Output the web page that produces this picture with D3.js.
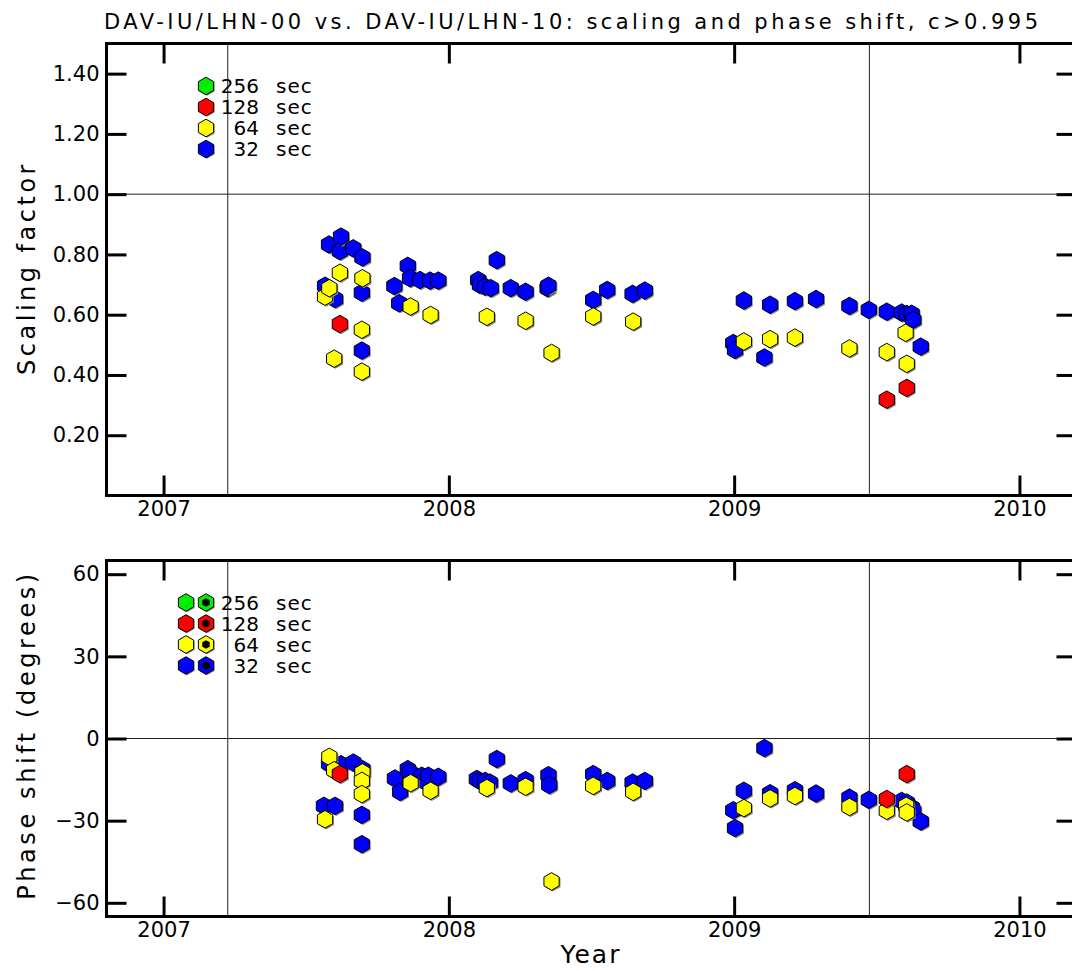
<!DOCTYPE html>
<html>
<head>
<meta charset="utf-8">
<script src="https://cdn.jsdelivr.net/npm/d3@7"></script>
<style>
  body { margin: 0; background: #fff; }
  svg { display: block; font-family: "DejaVu Sans", sans-serif; }
</style>
</head>
<body>
<div class="chart"></div>
<script>
// values: [decimal year, value]
const scale32 = [[2007.566,0.696],[2007.580,0.833],[2007.601,0.652],[2007.618,0.811],[2007.622,0.859],[2007.665,0.820],
  [2007.695,0.673],[2007.695,0.481],[2007.697,0.790],[2007.809,0.695],[2007.826,0.638],[2007.856,0.762],[2007.864,0.721],
  [2007.899,0.715],[2007.934,0.713],[2007.963,0.713],[2008.103,0.715],[2008.109,0.699],[2008.127,0.693],[2008.147,0.688],
  [2008.168,0.781],[2008.217,0.688],[2008.269,0.676],[2008.346,0.688],[2008.349,0.696],[2008.506,0.649],[2008.555,0.682],
  [2008.644,0.669],[2008.687,0.680],[2008.997,0.506],[2009.003,0.483],[2009.034,0.647],[2009.106,0.458],[2009.126,0.633],
  [2009.213,0.645],[2009.287,0.652],[2009.404,0.629],[2009.472,0.616],[2009.535,0.610],[2009.587,0.607],[2009.605,0.602],
  [2009.622,0.603],[2009.628,0.583],[2009.654,0.494]];
const scale64 = [[2007.566,0.660],[2007.581,0.688],[2007.598,0.454],[2007.618,0.739],[2007.695,0.550],[2007.695,0.411],
  [2007.697,0.721],[2007.866,0.627],[2007.936,0.599],[2008.133,0.593],[2008.269,0.580],[2008.360,0.473],[2008.506,0.594],
  [2008.646,0.577],[2009.034,0.511],[2009.126,0.519],[2009.213,0.524],[2009.404,0.488],[2009.535,0.476],[2009.601,0.540],
  [2009.605,0.437]];
const scale128 = [[2007.618,0.569],[2009.535,0.318],[2009.605,0.357]];

const phase32 = [[2007.562,-24.6],[2007.580,-9.2],[2007.601,-24.6],[2007.622,-9.4],[2007.665,-8.8],[2007.697,-11.2],
  [2007.695,-27.9],[2007.695,-38.6],[2007.811,-14.6],[2007.829,-19.5],[2007.856,-11.2],[2007.864,-12.4],[2007.905,-13.6],
  [2007.913,-15.5],[2007.928,-13.6],[2007.963,-14.0],[2008.098,-14.8],[2008.109,-15.5],[2008.127,-15.5],[2008.144,-16.1],
  [2008.168,-7.5],[2008.217,-16.4],[2008.269,-15.2],[2008.349,-13.4],[2008.352,-17.0],[2008.506,-13.0],[2008.555,-15.5],
  [2008.644,-16.1],[2008.687,-15.5],[2008.997,-26.2],[2009.003,-32.7],[2009.034,-19.1],[2009.106,-3.5],[2009.126,-20.0],
  [2009.213,-18.9],[2009.287,-20.1],[2009.404,-21.6],[2009.472,-22.4],[2009.587,-22.8],[2009.605,-23.4],[2009.622,-25.2],
  [2009.628,-26.4],[2009.654,-30.3]];
const phase64 = [[2007.566,-29.5],[2007.581,-6.7],[2007.598,-11.6],[2007.697,-12.4],[2007.695,-15.5],[2007.695,-20.3],
  [2007.866,-16.3],[2007.936,-19.1],[2008.133,-18.1],[2008.269,-17.6],[2008.360,-52.2],[2008.506,-17.3],[2008.646,-19.5],
  [2009.034,-25.4],[2009.126,-21.9],[2009.213,-21.0],[2009.404,-25.0],[2009.535,-26.4],[2009.603,-24.6],[2009.605,-27.0]];
const phase128 = [[2007.618,-13.0],[2009.535,-22.1],[2009.605,-13.0]];

const legendNums = ['256', '128', '64', '32'];
const legendColors = ['#00ee00', '#ff0000', '#ffff00', '#0000ff'];
const yearTicks = [2007, 2008, 2009, 2010];
const scaleTicks = [0.2, 0.4, 0.6, 0.8, 1.0, 1.2, 1.4];
const phaseTicks = [-60, -30, 0, 30, 60];
const markerLines = [2007.225, 2009.474];

const width = 1072, height = 971;
const svg = d3.select('.chart').append('svg')
  .attr('width', width)
  .attr('height', height);

svg.append('rect').attr('width', width).attr('height', height).attr('fill', '#fff');

const x = d3.scaleLinear().domain([2006.8, 2010.2]).range([106.5, 1076.5]);
const yTop = d3.scaleLinear().domain([0, 1.5]).range([495.5, 43.5]);
const yBot = d3.scaleLinear().domain([-65, 65]).range([916.5, 560.5]);

// hexagon with a vertex on top
function hex(r) {
  const pts = d3.range(6).map(i => {
    const a = (-90 + 60 * i) * Math.PI / 180;
    return [r * Math.cos(a), r * Math.sin(a)];
  });
  return d3.line().curve(d3.curveLinearClosed)(pts);
}

function panel(y, ticks, fmt, refValue) {
  const [y0, y1] = y.range();
  const g = svg.append('g');

  // thin reference lines
  markerLines.forEach(t => {
    g.append('line')
      .attr('x1', x(t)).attr('x2', x(t))
      .attr('y1', y1).attr('y2', y0)
      .style('stroke', '#222').style('stroke-width', 1);
  });
  g.append('line')
    .attr('x1', x.range()[0]).attr('x2', x.range()[1])
    .attr('y1', y(refValue)).attr('y2', y(refValue))
    .style('stroke', '#222').style('stroke-width', 1);

  // axes, ticks pointing inward
  g.append('g').attr('transform', `translate(0,${y0})`)
    .call(d3.axisBottom(x).tickValues(yearTicks).tickFormat(d3.format('d')).tickSize(-20).tickSizeOuter(0).tickPadding(6));
  g.append('g').attr('transform', `translate(0,${y1})`)
    .call(d3.axisTop(x).tickValues(yearTicks).tickFormat('').tickSize(-20).tickSizeOuter(0));
  g.append('g').attr('transform', `translate(${x.range()[0]},0)`)
    .call(d3.axisLeft(y).tickValues(ticks).tickFormat(fmt).tickSize(-20).tickSizeOuter(0).tickPadding(7));
  g.append('g').attr('transform', `translate(${x.range()[1]},0)`)
    .call(d3.axisRight(y).tickValues(ticks).tickFormat('').tickSize(-20).tickSizeOuter(0));

  g.selectAll('.domain').remove();
  g.selectAll('.tick line').style('stroke', '#000').style('stroke-width', 3);
  g.selectAll('.tick text')
    .style('font-family', '"DejaVu Sans", sans-serif')
    .style('font-size', '21px')
    .style('fill', '#000');

  // frame
  g.append('rect')
    .attr('x', x.range()[0]).attr('y', y1)
    .attr('width', x.range()[1] - x.range()[0]).attr('height', y0 - y1)
    .style('fill', 'none').style('stroke', '#000').style('stroke-width', 3);
  return g;
}

function points(g, y, data, color) {
  const p = g.append('g').selectAll('g').data(data).join('g')
    .attr('transform', d => `translate(${x(d[0])},${y(d[1])})`);
  p.append('path').attr('d', hex(8.8)).attr('transform', 'translate(1.3,1.3)')
    .style('fill', '#8a8a8a');
  p.append('path').attr('d', hex(8.8))
    .style('fill', color).style('stroke', '#000').style('stroke-width', 1);
}

function legend(g, top, dotted) {
  legendNums.forEach((n, i) => {
    const cy = top + i * 21;
    const hx = dotted ? [186, 206] : [206];
    hx.forEach((cx, j) => {
      g.append('path').attr('d', hex(8.8)).attr('transform', `translate(${cx + 1},${cy + 1})`).style('fill', '#8a8a8a');
      g.append('path').attr('d', hex(8.8)).attr('transform', `translate(${cx},${cy})`)
        .style('fill', legendColors[i]).style('stroke', '#000').style('stroke-width', 1);
      if (j === 1) {
        g.append('path').attr('d', hex(4.3)).attr('transform', `translate(${cx},${cy})`).style('fill', '#000');
      }
    });
    g.append('text').attr('x', 259).attr('y', cy + 7)
      .attr('text-anchor', 'end').style('font-size', '20px').text(n);
    g.append('text').attr('x', 276).attr('y', cy + 7)
      .style('font-size', '20px').style('letter-spacing', '1px').text('sec');
  });
}

// top panel: scaling factor
const gTop = panel(yTop, scaleTicks, d3.format('.2f'), 1.0);
points(gTop, yTop, scale32, legendColors[3]);
points(gTop, yTop, scale64, legendColors[2]);
points(gTop, yTop, scale128, legendColors[1]);
legend(gTop, 86, false);

// bottom panel: phase shift
const gBot = panel(yBot, phaseTicks, d3.format('d'), 0);
points(gBot, yBot, phase32, legendColors[3]);
points(gBot, yBot, phase64, legendColors[2]);
points(gBot, yBot, phase128, legendColors[1]);
legend(gBot, 602.5, true);

// titles
svg.append('text')
  .attr('x', 104).attr('y', 29)
  .attr('textLength', 934).attr('lengthAdjust', 'spacing')
  .style('font-size', '21px')
  .text('DAV-IU/LHN-00 vs. DAV-IU/LHN-10: scaling and phase shift, c>0.995');

svg.append('text')
  .attr('transform', 'translate(35,268) rotate(-90)')
  .attr('text-anchor', 'middle')
  .style('font-size', '24px').style('letter-spacing', '3.5px')
  .text('Scaling factor');

svg.append('text')
  .attr('transform', 'translate(35,735) rotate(-90)')
  .attr('text-anchor', 'middle')
  .style('font-size', '24px').style('letter-spacing', '3.6px')
  .text('Phase shift (degrees)');

svg.append('text')
  .attr('x', 591).attr('y', 963)
  .attr('text-anchor', 'middle')
  .style('font-size', '25px').style('letter-spacing', '2px')
  .text('Year');
</script>
</body>
</html>
